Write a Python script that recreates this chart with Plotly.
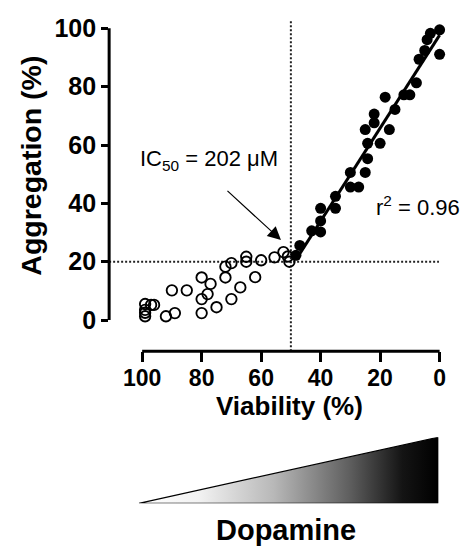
import numpy as np
import plotly.graph_objects as go

# ---- data ----
viability_open = [99, 99, 99, 99, 97, 96, 92, 89, 90, 85, 80, 77, 78, 80, 80, 75,
                  72, 70, 72, 70, 67, 65, 65, 62, 60, 55.5, 52.5, 51, 50.5]
aggregation_open = [5.5, 3.5, 2.5, 1.3, 5.2, 5.2, 1.3, 2.4, 10.2, 10.2, 14.6, 12.4, 8.9, 7.2, 2.4, 4.4,
                    18.3, 19.5, 14.6, 7.2, 11.2, 21.7, 20, 14.7, 20.5, 21.5, 23.3, 21.8, 20]

viability_filled = [48.3, 47, 43, 40, 40, 40, 35, 35, 30, 27.2, 30, 25, 24.2, 24.2, 20,
                    25, 16.9, 22, 22, 15, 18.3, 12, 10, 7.8, 6.9, 5, 0, 4.2, 3.1, 0]
aggregation_filled = [22.2, 25.6, 30.6, 30.2, 34, 38.3, 38.3, 42.4, 45.6, 45.6, 50.6, 50.6, 55.3, 60.6, 60.6,
                      65.3, 65.3, 67.6, 70.6, 72.2, 76.4, 77.2, 77.2, 81.3, 89.4, 92.4, 91.1, 96.1, 98.3, 99.5]

ic50_viability = 50
threshold_aggregation = 20
x_ticks = [100, 80, 60, 40, 20, 0]
y_ticks = [0, 20, 40, 60, 80, 100]
ic50_label = "IC<sub>50</sub> = 202 \u03bcM"
r2_label = "r<sup>2</sup> = 0.96"
x_title = "Viability (%)"
y_title = "Aggregation (%)"
gradient_label = "Dopamine"

# linear fit through the filled points
slope, intercept = np.polyfit(viability_filled, aggregation_filled, 1)
fit_x = np.array([max(viability_filled), min(viability_filled)])
fit_y = slope * fit_x + intercept

# ---- layout geometry (page placement compensation) ----
W, H = 471, 551
OX = 8.0
SY, OY = 0.977, 20.3
FONT = "Liberation Sans, Arial, Helvetica, sans-serif"


def fx(s):
    return s - OX


def fy(s):
    return (s - OY) / SY


def paper_x(s):
    return fx(s) / W


def paper_y(s):
    return (H - fy(s)) / H


# x axis: 100 at 143.3, 0 at 443.3 ; y axis: 0 at 320, 100 as high as fits
x100, x0 = fx(143.3), fx(443.3)
ux = (x0 - x100) / 100.0
y0p, y100p = fy(320), 8.5
uy = (y0p - y100p) / 100.0
XR = [111.1, -0.9]
YR = [-10.67, 100.67]
xdom = [(x100 - (XR[0] - 100) * ux) / W, (x0 + (-XR[1]) * ux) / W]
ydom = [(H - (y0p + (-YR[0]) * uy)) / H, (H - (y100p - (YR[1] - 100) * uy)) / H]

fig = go.Figure()

fig.add_trace(go.Scatter(
    x=viability_open, y=aggregation_open, mode="markers",
    marker=dict(symbol="circle-open", size=10.5, color="black", line=dict(width=1.85)),
    cliponaxis=False, showlegend=False))
fig.add_trace(go.Scatter(
    x=viability_filled, y=aggregation_filled, mode="markers",
    marker=dict(symbol="circle", size=11, color="black"),
    cliponaxis=False, showlegend=False))
fig.add_trace(go.Scatter(
    x=fit_x, y=fit_y, mode="lines", line=dict(color="black", width=3),
    showlegend=False))

# dopamine gradient wedge (in its own unit axes)
fig.add_trace(go.Scatter(
    x=[0, 1, 1, 0], y=[0, 0, 1, 0], xaxis="x2", yaxis="y2",
    mode="lines", fill="toself",
    fillgradient=dict(type="horizontal",
                      colorscale=[[0, "#ffffff"], [0.2, "#f2f2f2"], [0.45, "#b8b8b8"],
                                  [0.7, "#606060"], [0.88, "#141414"], [1, "#000000"]]),
    line=dict(color="black", width=1.2), showlegend=False, hoverinfo="skip"))

axis_common = dict(showgrid=False, zeroline=False, showline=False,
                   ticks="outside", tickwidth=3, tickcolor="black",
                   ticklabeloverflow="allow")

fig.update_layout(
    width=W, height=H,
    margin=dict(l=0, r=0, t=0, b=0),
    paper_bgcolor="white", plot_bgcolor="white",
    xaxis=dict(domain=xdom, range=XR, tickvals=x_ticks, ticklen=10,
               ticklabelstandoff=-4,
               tickfont=dict(family=FONT, size=23, color="black", weight="bold"),
               **axis_common),
    yaxis=dict(domain=ydom, range=YR, tickvals=y_ticks, ticklen=7,
               tickfont=dict(family=FONT, size=25, color="black", weight="bold"),
               **axis_common),
    xaxis2=dict(domain=[paper_x(140), paper_x(442)], range=[0, 1], visible=False, anchor="y2"),
    yaxis2=dict(domain=[paper_y(503), paper_y(437)], range=[0, 1], visible=False, anchor="x2"),
    shapes=[
        dict(type="line", xref="x domain", yref="y", x0=0, x1=0, y0=0, y1=100,
             line=dict(color="black", width=3)),
        dict(type="line", xref="x", yref="y domain", x0=100, x1=0, y0=0, y1=0,
             line=dict(color="black", width=3)),
        dict(type="line", xref="x domain", yref="y", x0=0, x1=0.99, y0=threshold_aggregation,
             y1=threshold_aggregation, line=dict(color="#222", width=2, dash="2px,2px"), layer="below"),
        dict(type="line", xref="x", yref="paper", x0=ic50_viability, x1=ic50_viability, y0=ydom[0], y1=1,
             line=dict(color="#222", width=2, dash="2px,2px"), layer="below"),
    ],
    annotations=[
        dict(x=paper_x(283.3), y=paper_y(240), xref="paper", yref="paper",
             ax=fx(228.3) - fx(283.3), ay=fy(190.7) - fy(240),
             text="", showarrow=True, arrowhead=2, arrowsize=2.2, arrowwidth=1.2, arrowcolor="black"),
        dict(x=paper_x(211), y=paper_y(160), xref="paper", yref="paper", text=ic50_label, showarrow=False,
             xanchor="center", yanchor="middle",
             font=dict(family=FONT, size=22, color="black")),
        dict(x=paper_x(422), y=paper_y(206), xref="paper", yref="paper", text=r2_label, showarrow=False,
             xanchor="center", yanchor="middle",
             font=dict(family=FONT, size=22, color="black")),
        dict(x=paper_x(292), y=paper_y(406), xref="paper", yref="paper", text=x_title, showarrow=False,
             xanchor="center", yanchor="middle",
             font=dict(family=FONT, size=26, color="black", weight="bold")),
        dict(x=paper_x(31), y=paper_y(166), xref="paper", yref="paper", text=y_title, showarrow=False,
             xanchor="center", yanchor="middle", textangle=-90,
             font=dict(family=FONT, size=28.5, color="black", weight="bold")),
        dict(x=paper_x(288), y=paper_y(530), xref="paper", yref="paper", text=gradient_label, showarrow=False,
             xanchor="center", yanchor="middle",
             font=dict(family=FONT, size=29, color="black", weight="bold")),
    ],
)

fig.write_html("out.html")
